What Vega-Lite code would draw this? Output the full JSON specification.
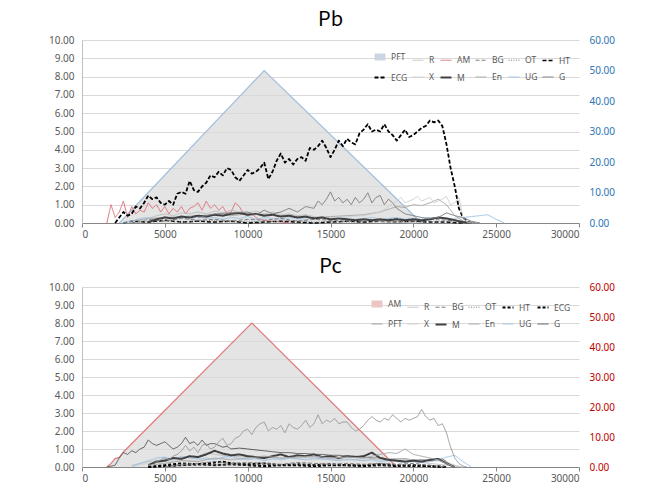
{
 "$schema": "https://vega.github.io/schema/vega-lite/v6.json",
 "background": "white",
 "padding": {"left": 48, "top": 10, "right": 10, "bottom": 4},
 "config": {
  "font": "Noto Sans",
  "view": {"stroke": null},
  "axis": {"labelFont": "Noto Sans", "labelFontSize": 10, "labelColor": "#595959", "title": null},
  "title": {"font": "Noto Sans CJK KR", "fontSize": 20, "fontWeight": "normal", "color": "#000000", "offset": 5, "anchor": "middle"},
  "legend": {"orient": "top-right", "direction": "horizontal", "columns": 6, "symbolType": "stroke", "symbolSize": 120, "labelFontSize": 8.5, "labelColor": "#595959", "labelFont": "Noto Sans", "title": null, "offset": 8, "rowPadding": -8, "columnPadding": 1, "labelOffset": 2, "padding": 0},
  "concat": {"spacing": 18}
 },
 "resolve": {"scale": {"color": "independent", "strokeDash": "independent", "strokeWidth": "independent"}, "legend": {"color": "independent", "strokeDash": "independent", "strokeWidth": "independent"}},
 "datasets": {
  "pb": [
   {"x":1500,"AM":0},
   {"x":1750,"AM":1.0},
   {"x":2000,"AM":0.3,"ECG":0},
   {"x":2250,"AM":0.6,"ECG":0.3,"PFT":0},
   {"x":2500,"AM":1.2,"ECG":0.6,"UG":0,"HT":0},
   {"x":2750,"AM":0.3,"ECG":0.4},
   {"x":3000,"AM":0.9,"ECG":0.5,"En":0.1,"UG":0.1,"BG":0,"OT":0,"HT":0.1},
   {"x":3250,"AM":0.5,"ECG":0.9},
   {"x":3500,"AM":0.7,"ECG":0.8,"R":0.1,"UG":0.25},
   {"x":3750,"AM":0.6,"ECG":1.1},
   {"x":4000,"AM":1.1,"ECG":1.5,"En":0.25,"M":0.05,"UG":0.3,"BG":0.2,"OT":0.1,"HT":0.05},
   {"x":4250,"AM":0.8,"ECG":1.3},
   {"x":4500,"AM":1.0,"ECG":1.4,"R":0.4,"M":0.2,"UG":0.2},
   {"x":4750,"AM":0.6,"ECG":1.1},
   {"x":5000,"AM":0.9,"ECG":1.0,"En":0.3,"R":0.5,"M":0.3,"UG":0.35,"BG":0.1,"OT":0.15,"HT":0.15},
   {"x":5250,"AM":0.5,"ECG":1.2},
   {"x":5500,"AM":0.8,"ECG":1.0,"R":0.4,"M":0.25,"UG":0.25},
   {"x":5750,"AM":0.6,"ECG":1.6},
   {"x":6000,"AM":0.9,"ECG":1.7,"En":0.35,"R":0.55,"M":0.35,"UG":0.3,"BG":0.25,"OT":0.05,"HT":0.05},
   {"x":6250,"AM":0.5,"ECG":1.6},
   {"x":6500,"AM":0.8,"ECG":2.3,"R":0.5,"M":0.3,"UG":0.2},
   {"x":6750,"AM":0.9,"ECG":1.8},
   {"x":7000,"AM":1.1,"ECG":1.7,"G":0.3,"En":0.4,"R":0.6,"M":0.4,"UG":0.35,"BG":0.15,"OT":0.1,"HT":0.1},
   {"x":7250,"AM":0.7,"ECG":2.0},
   {"x":7500,"AM":1.2,"ECG":2.2,"R":0.5,"M":0.35,"UG":0.25},
   {"x":7750,"AM":0.8,"ECG":2.6},
   {"x":8000,"AM":1.0,"ECG":2.5,"G":0.5,"En":0.45,"R":0.65,"M":0.45,"UG":0.3,"BG":0.2,"OT":0.15,"HT":0.05},
   {"x":8250,"AM":0.7,"ECG":2.8},
   {"x":8500,"AM":0.9,"ECG":2.6,"R":0.55,"M":0.4,"UG":0.2},
   {"x":8750,"AM":0.5,"ECG":3.0},
   {"x":9000,"AM":0.6,"ECG":2.9,"G":0.55,"En":0.4,"R":0.7,"M":0.5,"UG":0.3,"BG":0.1,"OT":0.05,"HT":0.1},
   {"x":9250,"AM":1.1,"ECG":2.5},
   {"x":9500,"AM":0.9,"ECG":2.3,"R":0.6,"M":0.55,"UG":0.25},
   {"x":9750,"AM":0.5,"ECG":2.6},
   {"x":10000,"AM":0.4,"ECG":2.9,"G":0.6,"En":0.5,"R":0.55,"M":0.45,"UG":0.35,"BG":0.2,"OT":0.1,"HT":0},
   {"x":10250,"AM":0.5,"ECG":2.7},
   {"x":10500,"AM":0.3,"ECG":2.8,"G":0.45,"R":0.65,"M":0.5,"UG":0.2},
   {"x":10750,"AM":0.2,"ECG":3.0},
   {"x":11000,"PFT":50,"AM":0.15,"ECG":3.3,"G":0.7,"En":0.45,"R":0.5,"M":0.4,"UG":0.3,"BG":0.15,"OT":0.05,"HT":0.05},
   {"x":11250,"ECG":2.4},
   {"x":11500,"AM":0.1,"ECG":2.8,"G":0.5,"R":0.6,"M":0.45,"UG":0.25},
   {"x":11750,"ECG":3.4},
   {"x":12000,"AM":0.05,"ECG":3.8,"G":0.6,"En":0.4,"R":0.45,"M":0.35,"UG":0.2,"BG":0.25,"OT":0.1,"HT":0.1},
   {"x":12250,"ECG":3.3},
   {"x":12500,"AM":0,"ECG":3.5,"G":0.8,"R":0.5,"M":0.4,"UG":0.3},
   {"x":12750,"ECG":3.2},
   {"x":13000,"ECG":3.5,"G":0.6,"En":0.35,"R":0.4,"M":0.3,"UG":0.25,"BG":0.1,"OT":0.15,"HT":0.05},
   {"x":13250,"ECG":3.6},
   {"x":13500,"ECG":3.4,"G":0.9,"R":0.45,"M":0.35,"UG":0.2},
   {"x":13750,"ECG":4.1},
   {"x":14000,"ECG":4.0,"G":0.8,"En":0.3,"R":0.35,"M":0.25,"UG":0.3,"BG":0.2,"OT":0.05,"HT":0},
   {"x":14250,"ECG":4.2,"G":1.2},
   {"x":14500,"ECG":4.5,"G":1.0,"R":0.3,"M":0.3,"UG":0.25},
   {"x":14750,"ECG":4.1,"G":1.3},
   {"x":15000,"ECG":3.6,"G":1.7,"X":0.3,"En":0.35,"R":0.25,"M":0.2,"UG":0.2,"BG":0.15,"OT":0.1,"HT":0.05},
   {"x":15250,"ECG":4.0,"G":1.2},
   {"x":15500,"ECG":4.5,"G":1.4,"M":0.25,"UG":0.3},
   {"x":15750,"ECG":4.2,"G":1.1},
   {"x":16000,"ECG":4.6,"G":1.3,"X":0.35,"En":0.4,"R":0.2,"M":0.2,"UG":0.25,"BG":0.1,"OT":0.05,"HT":0.1},
   {"x":16250,"ECG":4.4,"G":1.0},
   {"x":16500,"ECG":4.3,"G":1.4,"M":0.15,"UG":0.2},
   {"x":16750,"ECG":4.9,"G":1.1},
   {"x":17000,"ECG":5.1,"G":1.3,"X":0.4,"En":0.45,"R":0.15,"M":0.2,"UG":0.25,"BG":0.2,"OT":0.1,"HT":0.05},
   {"x":17250,"ECG":5.4,"G":1.65},
   {"x":17500,"ECG":5.0,"G":1.1,"X":0.5,"M":0.15,"UG":0.3},
   {"x":17750,"ECG":5.1,"G":1.4},
   {"x":18000,"ECG":5.0,"G":1.5,"X":0.6,"En":0.6,"R":0.1,"M":0.2,"UG":0.2,"BG":0.15,"OT":0.15,"HT":0.1},
   {"x":18250,"ECG":5.4,"G":1.0},
   {"x":18500,"ECG":5.0,"G":1.3,"X":0.9,"En":0.75,"M":0.15,"UG":0.25},
   {"x":18750,"ECG":4.8,"G":1.1},
   {"x":19000,"ECG":4.5,"G":0.8,"X":1.2,"En":0.9,"R":0.05,"M":0.2,"UG":0.3,"BG":0.25,"OT":0.1,"HT":0.05},
   {"x":19250,"ECG":4.8,"X":1.4},
   {"x":19500,"ECG":5.1,"G":0.5,"X":1.1,"En":0.85,"M":0.15,"UG":0.2},
   {"x":19750,"ECG":4.7,"X":1.2},
   {"x":20000,"ECG":4.8,"G":0.4,"X":1.3,"En":1.0,"R":0,"M":0.2,"UG":0.25,"BG":0.1,"OT":0.05,"HT":0.1},
   {"x":20250,"ECG":5.0,"X":1.45},
   {"x":20500,"PFT":0,"ECG":5.2,"G":0.3,"X":1.2,"En":0.95,"M":0.15,"UG":0.2},
   {"x":20750,"ECG":5.3,"X":1.3},
   {"x":21000,"ECG":5.6,"G":0.25,"X":1.4,"En":1.1,"M":0.2,"UG":0.3,"BG":0.2,"OT":0.1,"HT":0.05},
   {"x":21250,"ECG":5.5,"X":1.1},
   {"x":21500,"ECG":5.6,"G":0.3,"X":1.2,"En":1.3,"M":0.3,"UG":0.25},
   {"x":21750,"ECG":5.3,"X":1.3},
   {"x":22000,"ECG":4.3,"G":0.55,"X":1.45,"En":1.0,"M":0.25,"UG":0.2,"BG":0.15,"OT":0.1,"HT":0.05},
   {"x":22250,"ECG":3.0,"X":1.0},
   {"x":22500,"ECG":2.0,"G":0.4,"X":1.1,"En":0.4,"M":0.15,"UG":0.25},
   {"x":22750,"ECG":0.8,"X":1.4},
   {"x":23000,"ECG":0.3,"G":0.3,"X":0.3,"En":0.1,"M":0.05,"UG":0.3,"BG":0.1,"OT":0,"HT":0},
   {"x":23250,"ECG":0.1,"X":0.05},
   {"x":23500,"ECG":0,"G":0.1,"X":0,"En":0,"M":0,"UG":0.35},
   {"x":24000,"G":0,"UG":0.4,"BG":0},
   {"x":24500,"UG":0.45},
   {"x":25000,"UG":0.2},
   {"x":25500,"UG":0}
  ],
  "pc": [
   {"x":1500,"AM":0,"G":0},
   {"x":1750,"AM":1.2},
   {"x":2000,"AM":2.8,"G":0.1},
   {"x":2250,"AM":3.2,"G":0.5},
   {"x":2500,"AM":5.0,"G":0.8},
   {"x":2750,"G":0.7},
   {"x":3000,"G":0.9,"X":0.05,"R":0.1,"UG":0},
   {"x":3250,"G":0.8},
   {"x":3500,"G":1.0,"UG":0.2},
   {"x":3750,"G":1.1},
   {"x":4000,"G":1.5,"M":0.1,"X":0.2,"En":0.1,"R":0.3,"UG":0.35,"ECG":0,"HT":0},
   {"x":4250,"G":1.3,"PFT":0},
   {"x":4500,"PFT":0.3,"G":1.2,"M":0.3,"UG":0.5},
   {"x":4750,"PFT":0.4,"G":1.3},
   {"x":5000,"PFT":0.5,"G":1.4,"M":0.35,"X":0.3,"En":0.2,"R":0.4,"UG":0.55,"ECG":0.1,"HT":0.05,"BG":0,"OT":0},
   {"x":5250,"PFT":0.4,"G":1.2},
   {"x":5500,"PFT":0.6,"G":1.0,"M":0.5,"UG":0.4},
   {"x":5750,"PFT":0.7,"G":1.1},
   {"x":6000,"PFT":0.9,"G":1.3,"M":0.45,"X":0.35,"En":0.35,"R":0.5,"UG":0.6,"ECG":0.2,"HT":0.1,"BG":0.15,"OT":0.1},
   {"x":6250,"PFT":1.2,"G":1.65},
   {"x":6500,"PFT":0.9,"G":1.3,"M":0.6,"UG":0.5},
   {"x":6750,"PFT":1.1,"G":1.4},
   {"x":7000,"PFT":0.8,"G":1.2,"M":0.55,"X":0.4,"En":0.3,"R":0.6,"UG":0.45,"ECG":0.15,"HT":0.15,"BG":0.2,"OT":0.15},
   {"x":7250,"PFT":1.2,"G":1.5},
   {"x":7500,"PFT":1.3,"G":1.2,"M":0.7,"R":0.8,"UG":0.5},
   {"x":7750,"PFT":1.0,"G":1.3},
   {"x":8000,"PFT":1.1,"G":1.3,"M":0.9,"X":0.45,"En":0.5,"R":0.7,"UG":0.4,"ECG":0.25,"HT":0.1,"BG":0.3,"OT":0.1},
   {"x":8250,"PFT":1.4,"G":1.2},
   {"x":8500,"PFT":1.6,"G":1.1,"M":0.75,"UG":0.55,"ECG":0.3},
   {"x":8750,"PFT":1.2,"G":1.15},
   {"x":9000,"PFT":1.3,"G":1.0,"M":0.65,"X":0.5,"En":0.4,"R":0.6,"UG":0.6,"ECG":0.2,"HT":0.15,"BG":0.2,"OT":0.15},
   {"x":9250,"PFT":1.6},
   {"x":9500,"PFT":1.7,"G":1.05,"M":0.7,"UG":0.45},
   {"x":9750,"PFT":2.0},
   {"x":10000,"PFT":2.1,"G":1.0,"M":0.6,"X":0.45,"En":0.5,"R":0.55,"UG":0.4,"ECG":0.15,"HT":0.1,"BG":0.25,"OT":0.1},
   {"x":10250,"AM":48,"PFT":1.8},
   {"x":10500,"PFT":2.2,"G":0.95,"M":0.55,"UG":0.5},
   {"x":10750,"PFT":2.4},
   {"x":11000,"PFT":2.5,"G":0.9,"M":0.5,"X":0.4,"En":0.6,"R":0.6,"UG":0.35,"ECG":0.2,"HT":0.05,"BG":0.2,"OT":0.15},
   {"x":11250,"PFT":2.0},
   {"x":11500,"PFT":2.2,"G":0.85,"M":0.6,"UG":0.45},
   {"x":11750,"PFT":2.1},
   {"x":12000,"PFT":2.3,"G":0.8,"M":0.7,"X":0.5,"En":0.5,"R":0.45,"UG":0.4,"ECG":0.1,"HT":0.1,"BG":0.15,"OT":0.1},
   {"x":12250,"PFT":1.9},
   {"x":12500,"PFT":2.4,"G":0.8,"M":0.55,"UG":0.5},
   {"x":12750,"PFT":2.2},
   {"x":13000,"PFT":2.1,"G":0.75,"M":0.65,"X":0.45,"En":0.55,"R":0.5,"UG":0.45,"ECG":0.15,"HT":0.1,"BG":0.25,"OT":0.15},
   {"x":13250,"PFT":2.3},
   {"x":13500,"PFT":2.6,"G":0.75,"M":0.6,"UG":0.4},
   {"x":13750,"PFT":2.2},
   {"x":14000,"PFT":2.4,"G":0.7,"M":0.7,"X":0.4,"En":0.6,"R":0.55,"UG":0.5,"ECG":0.1,"HT":0.05,"BG":0.2,"OT":0.1},
   {"x":14250,"PFT":2.9},
   {"x":14500,"PFT":2.4,"G":0.7,"M":0.55,"UG":0.45},
   {"x":14750,"PFT":2.6},
   {"x":15000,"PFT":2.5,"G":0.65,"M":0.6,"X":0.45,"En":0.5,"R":0.45,"UG":0.4,"ECG":0.15,"HT":0.1,"BG":0.15,"OT":0.15},
   {"x":15250,"PFT":2.7},
   {"x":15500,"PFT":2.4,"G":0.65,"M":0.5,"UG":0.35},
   {"x":15750,"PFT":2.5},
   {"x":16000,"PFT":2.5,"G":0.6,"M":0.6,"X":0.4,"En":0.55,"R":0.4,"UG":0.45,"ECG":0.1,"HT":0.1,"BG":0.2,"OT":0.1},
   {"x":16250,"PFT":2.2},
   {"x":16500,"PFT":2.0,"G":0.6,"M":0.55,"UG":0.4},
   {"x":16750,"PFT":2.1},
   {"x":17000,"PFT":2.3,"G":0.55,"M":0.6,"X":0.35,"En":0.5,"R":0.45,"UG":0.35,"ECG":0.1,"HT":0.05,"BG":0.15,"OT":0.15},
   {"x":17250,"PFT":2.6},
   {"x":17500,"PFT":2.8,"G":0.5,"M":0.8,"UG":0.4},
   {"x":17750,"PFT":2.6},
   {"x":18000,"PFT":2.5,"G":0.5,"M":0.5,"X":0.5,"En":0.7,"R":0.4,"UG":0.3,"ECG":0.15,"HT":0.1,"BG":0.2,"OT":0.1},
   {"x":18250,"PFT":2.7},
   {"x":18500,"PFT":2.6,"G":0.45,"M":0.4,"En":0.8,"UG":0.35},
   {"x":18750,"PFT":2.9},
   {"x":19000,"AM":0,"PFT":2.7,"G":0.45,"M":0.35,"X":0.45,"En":0.75,"R":0.35,"UG":0.3,"ECG":0.1,"HT":0.05,"BG":0.15,"OT":0.1},
   {"x":19250,"PFT":2.5},
   {"x":19500,"PFT":2.7,"G":0.45,"M":0.3,"En":1.0,"UG":0.25},
   {"x":19750,"PFT":2.6},
   {"x":20000,"PFT":2.7,"G":0.4,"M":0.35,"X":0.4,"En":0.7,"R":0.3,"UG":0.3,"ECG":0.05,"HT":0.1,"BG":0.2,"OT":0.1},
   {"x":20250,"PFT":2.8},
   {"x":20500,"PFT":3.2,"G":0.4,"M":0.3,"En":0.6,"UG":0.25},
   {"x":20750,"PFT":2.8},
   {"x":21000,"PFT":2.6,"G":0.35,"M":0.4,"X":0.35,"En":0.5,"R":0.2,"UG":0.3,"ECG":0.05,"HT":0.05,"BG":0.1,"OT":0.1},
   {"x":21250,"PFT":2.7},
   {"x":21500,"PFT":2.3,"G":0.4,"M":0.45,"En":0.4,"UG":0.4},
   {"x":21750,"PFT":2.4,"G":0.45},
   {"x":22000,"PFT":1.9,"G":0.3,"M":0.2,"X":0.3,"En":0.2,"R":0.1,"UG":0.55,"ECG":0,"HT":0,"BG":0,"OT":0},
   {"x":22250,"PFT":1.1,"G":0.1},
   {"x":22500,"PFT":0.5,"G":0,"M":0,"X":0.1,"En":0,"UG":0.65},
   {"x":22750,"PFT":0.2},
   {"x":23000,"PFT":0.05,"X":0,"R":0,"UG":0.3},
   {"x":23250,"PFT":0},
   {"x":23500,"UG":0}
  ]
 },
 "vconcat": [
  {
   "title": "Pb",
   "width": 497,
   "height": 183,
   "data": {"name": "pb"},
   "layer": [
    {
     "transform": [{"filter": "isValid(datum.PFT)"}],
     "mark": {"type": "area", "fill": "#d9d9d9", "line": {"stroke": "#a3bedb", "strokeWidth": 1.2}},
     "encoding": {
      "x": {"field": "x", "type": "quantitative", "scale": {"domain": [0, 30000], "nice": false}, "axis": {"values": [0,5000,10000,15000,20000,25000,30000], "format": "d", "grid": false, "domainColor": "#868686", "tickColor": "#868686", "tickSize": 4, "labelPadding": 2}},
      "y": {"field": "PFT", "type": "quantitative", "scale": {"domain": [0, 60], "nice": false}, "axis": {"orient": "right", "values": [0,10,20,30,40,50,60], "format": ".2f", "grid": false, "domain": false, "ticks": false, "labelColor": "#2e75b6", "labelPadding": 10}}
     }
    },
    {
     "transform": [{"fold": ["R","AM","BG","OT","HT","X","M","En","UG","G","ECG"], "as": ["s","v"]}, {"filter": "isValid(datum.v)"}],
     "mark": {"type": "line", "strokeJoin": "round"},
     "encoding": {
      "x": {"field": "x", "type": "quantitative", "scale": {"domain": [0, 30000], "nice": false}, "axis": {"values": [0,5000,10000,15000,20000,25000,30000], "format": "d", "grid": false, "domainColor": "#868686", "tickColor": "#868686", "tickSize": 4, "labelPadding": 2}},
      "y": {"field": "v", "type": "quantitative", "scale": {"domain": [0, 10], "nice": false}, "axis": {"orient": "left", "values": [0,1,2,3,4,5,6,7,8,9,10], "format": ".2f", "grid": true, "gridColor": "#d9d9d9", "domainColor": "#bfbfbf", "ticks": false, "labelPadding": 8}},
      "color": {"field": "s", "type": "nominal", "scale": {"domain": ["PFT","R","AM","BG","OT","HT","ECG","X","M","En","UG","G"], "range": ["#ccd5e2","#bfbfbf","#e0707a","#808080","#808080","#000000","#000000","#d0d0d0","#404040","#a6a6a6","#9dc3e6","#7a7a7a"]}},
      "strokeDash": {"field": "s", "type": "nominal", "scale": {"domain": ["PFT","R","AM","BG","OT","HT","ECG","X","M","En","UG","G"], "range": [[1,0],[1,0],[1,0],[4,2],[1,1.5],[4,2],[4,2],[1,0],[1,0],[1,0],[1,0],[1,0]]}},
      "strokeWidth": {"field": "s", "type": "nominal", "scale": {"type": "ordinal", "domain": ["PFT","R","AM","BG","OT","HT","ECG","X","M","En","UG","G"], "range": [7,1,1,1,1,1.5,1.8,1,2,1,1,1]}}
     }
    }
   ],
   "resolve": {"scale": {"y": "independent"}}
  },
  {
   "title": "Pc",
   "width": 497,
   "height": 180,
   "data": {"name": "pc"},
   "layer": [
    {
     "transform": [{"filter": "isValid(datum.AM)"}],
     "mark": {"type": "area", "fill": "#d9d9d9", "line": {"stroke": "#e07b7b", "strokeWidth": 1.2}},
     "encoding": {
      "x": {"field": "x", "type": "quantitative", "scale": {"domain": [0, 30000], "nice": false}, "axis": {"values": [0,5000,10000,15000,20000,25000,30000], "format": "d", "grid": false, "domainColor": "#868686", "tickColor": "#868686", "tickSize": 4, "labelPadding": 2}},
      "y": {"field": "AM", "type": "quantitative", "scale": {"domain": [0, 60], "nice": false}, "axis": {"orient": "right", "values": [0,10,20,30,40,50,60], "format": ".2f", "grid": false, "domain": false, "ticks": false, "labelColor": "#c00000", "labelPadding": 10}}
     }
    },
    {
     "transform": [{"fold": ["R","BG","OT","HT","ECG","X","M","En","UG","G","PFT"], "as": ["s","v"]}, {"filter": "isValid(datum.v)"}],
     "mark": {"type": "line", "strokeJoin": "round"},
     "encoding": {
      "x": {"field": "x", "type": "quantitative", "scale": {"domain": [0, 30000], "nice": false}, "axis": {"values": [0,5000,10000,15000,20000,25000,30000], "format": "d", "grid": false, "domainColor": "#868686", "tickColor": "#868686", "tickSize": 4, "labelPadding": 2}},
      "y": {"field": "v", "type": "quantitative", "scale": {"domain": [0, 10], "nice": false}, "axis": {"orient": "left", "values": [0,1,2,3,4,5,6,7,8,9,10], "format": ".2f", "grid": true, "gridColor": "#d9d9d9", "domainColor": "#bfbfbf", "ticks": false, "labelPadding": 8}},
      "color": {"field": "s", "type": "nominal", "scale": {"domain": ["AM","R","BG","OT","HT","ECG","PFT","X","M","En","UG","G"], "range": ["#ecc6c6","#bfbfbf","#808080","#808080","#000000","#000000","#9a9a9a","#d0d0d0","#404040","#a6a6a6","#9dc3e6","#595959"]}},
      "strokeDash": {"field": "s", "type": "nominal", "scale": {"domain": ["AM","R","BG","OT","HT","ECG","PFT","X","M","En","UG","G"], "range": [[1,0],[1,0],[4,2],[1,1.5],[3,2],[3,2],[1,0],[1,0],[1,0],[1,0],[1,0],[1,0]]}},
      "strokeWidth": {"field": "s", "type": "nominal", "scale": {"type": "ordinal", "domain": ["AM","R","BG","OT","HT","ECG","PFT","X","M","En","UG","G"], "range": [7,1,1,1,2,2,1,1,2,1,1,1]}}
     }
    }
   ],
   "resolve": {"scale": {"y": "independent"}}
  }
 ]
}
